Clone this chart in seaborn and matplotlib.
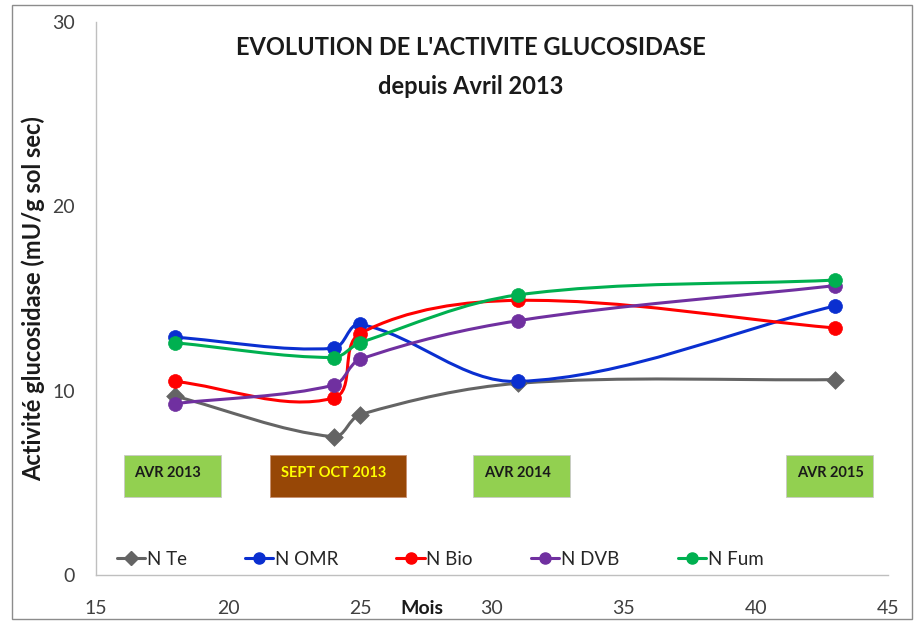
import numpy as np
import seaborn as sns
import matplotlib.pyplot as plt
from matplotlib.path import Path
from matplotlib.patches import PathPatch, Rectangle
from matplotlib.lines import Line2D

# data
mois = [18, 24, 25, 31, 43]
n_te = [9.7, 7.5, 8.7, 10.4, 10.6]
n_omr = [12.9, 12.3, 13.6, 10.5, 14.6]
n_bio = [10.5, 9.6, 13.1, 14.9, 13.4]
n_dvb = [9.3, 10.3, 11.7, 13.8, 15.7]
n_fum = [12.6, 11.8, 12.6, 15.2, 16.0]

series = ["N Te", "N OMR", "N Bio", "N DVB", "N Fum"]
values = [n_te, n_omr, n_bio, n_dvb, n_fum]
colors = ["#646464", "#0A2FD0", "#FF0000", "#7030A0", "#00B050"]
markers = ["D", "o", "o", "o", "o"]

periodes = ["AVR 2013", "SEPT OCT 2013", "AVR 2014", "AVR 2015"]
periode_debut = [16.05, 21.6, 29.3, 41.15]
periode_fin = [19.75, 26.75, 32.95, 44.45]

sns.set_style("white")
plt.rcParams['font.family'] = ['Lato', 'DejaVu Sans']

fig = plt.figure(figsize=(9.22, 6.27), dpi=100)
ax = fig.add_axes([0.1041, 0.0829, 0.859, 0.882])
ax.set_xlim(15, 45)
ax.set_ylim(0, 30)


def smooth_path(x, y):
    # excel-like smoothed line, worked out in screen space so it doesn't loop
    pts = ax.transData.transform(np.column_stack([x, y]))
    n = len(pts)
    tang = []
    for i in range(n):
        d = pts[min(i + 1, n - 1)] - pts[max(i - 1, 0)]
        tang.append(d / np.hypot(*d))
    verts = [pts[0]]
    codes = [Path.MOVETO]
    for i in range(n - 1):
        L = np.hypot(*(pts[i + 1] - pts[i]))
        verts += [pts[i] + tang[i] * L / 3, pts[i + 1] - tang[i + 1] * L / 3, pts[i + 1]]
        codes += [Path.CURVE4] * 3
    verts = ax.transData.inverted().transform(np.array(verts))
    return Path(verts, codes)


handles = []
for name, vals, col, mk in zip(series, values, colors, markers):
    ax.add_patch(PathPatch(smooth_path(mois, vals), fill=False, edgecolor=col,
                           lw=2.2, zorder=3, capstyle='round'))
    ms = 9 if mk == "D" else 10
    sns.scatterplot(x=mois, y=vals, ax=ax, marker=mk, color=col, s=ms ** 2,
                    edgecolor=col, linewidth=0.5, zorder=4)
    handles.append(Line2D([], [], color=col, lw=2.2, marker=mk,
                          markersize=7 if mk == "D" else 8, label=name))

# period boxes
for lab, a, b in zip(periodes, periode_debut, periode_fin):
    brun = lab.startswith("SEPT")
    ax.add_patch(Rectangle((a, 4.25), b - a, 2.27,
                           facecolor="#974706" if brun else "#92D050",
                           edgecolor="#C89070" if brun else "#C8C8C8",
                           lw=0.6, zorder=2))
    ax.text(a + 0.4, 5.55, lab, fontsize=10.5,
            fontweight='bold', color="#FFFF00" if brun else "#1A1A1A",
            va='center', ha='left', zorder=3)

ax.set_xticks([15, 20, 25, 30, 35, 40, 45])
ax.set_yticks([0, 10, 20, 30])

for s in ["top", "right"]:
    ax.spines[s].set_visible(False)
for s in ["left", "bottom"]:
    ax.spines[s].set_color("#BFBFBF")
    ax.spines[s].set_linewidth(1)
ax.tick_params(axis='both', direction='out', length=7, width=1,
               color="#BFBFBF", labelcolor="#404040", labelsize=14)
ax.tick_params(axis='x', pad=11)
ax.tick_params(axis='y', pad=8)

ax.set_ylabel("Activité glucosidase (mU/g sol sec)", fontsize=17,
              fontweight='bold', color="#1A1A1A", labelpad=5)
ax.text(27.35, -1.8, "Mois", fontsize=14, fontweight='bold', color="#1A1A1A",
        ha='center', va='center', clip_on=False)

ax.text(0.473, 0.953, "EVOLUTION DE L'ACTIVITE GLUCOSIDASE", transform=ax.transAxes,
        fontsize=17, fontweight='bold', ha='center', va='center', color="#1A1A1A")
ax.text(0.473, 0.884, "depuis Avril 2013", transform=ax.transAxes,
        fontsize=17, fontweight='bold', ha='center', va='center', color="#1A1A1A")

ax.legend(handles=handles, loc='center left', bbox_to_anchor=(0.005, 0.028),
          ncol=5, frameon=False, fontsize=13.5, handlelength=1.5,
          handletextpad=0.1, columnspacing=3.1)

# outer frame
fig.add_artist(Rectangle((0.013, 0.012), 0.976, 0.98, transform=fig.transFigure,
                         fill=False, edgecolor="#8C8C8C", lw=1))

fig.savefig("out.png", dpi=100)
